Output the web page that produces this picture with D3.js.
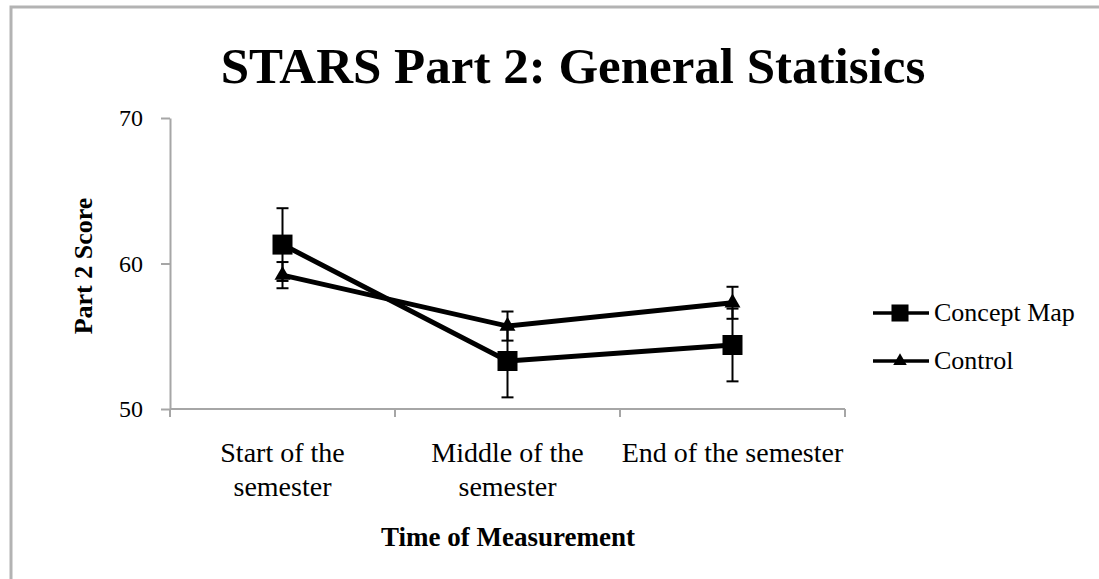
<!DOCTYPE html>
<html lang="en">
<head>
<meta charset="utf-8">
<title>STARS Part 2: General Statisics</title>
<style>
  body { margin: 0; background: #fff; }
  svg text { font-family: "Liberation Serif", "DejaVu Serif", serif; fill: #000; }
  .axis path, .axis line { stroke: #a6a6a6; stroke-width: 2; }
</style>
</head>
<body>
<script src="https://cdn.jsdelivr.net/npm/d3@7"></script>
<script>
// chart values
var categories = ["Start of the semester", "Middle of the semester", "End of the semester"];
var tickLabels = [["Start of the", "semester"], ["Middle of the", "semester"], ["End of the semester"]];
var seriesNames = ["Concept Map", "Control"];
var conceptMap = [61.3, 53.3, 54.4];
var conceptMapErr = [2.5, 2.5, 2.5];
var control = [59.2, 55.7, 57.3];
var controlErr = [0.9, 1.0, 1.1];
var yTicks = [50, 60, 70];

var W = 1099, H = 579;
var margin = {top: 118, left: 170, right: 251, bottom: 170};
var width = W - margin.left - margin.right,
    height = H - margin.top - margin.bottom;  // 291

var svg = d3.select("body").append("svg")
    .attr("width", W)
    .attr("height", H);

// outer chart frame
svg.append("rect")
    .attr("x", 11).attr("y", 7)
    .attr("width", W + 20).attr("height", H + 20)
    .attr("fill", "none")
    .attr("stroke", "#b3b3b3")
    .attr("stroke-width", 3);

svg.append("text")
    .attr("x", 573).attr("y", 83)
    .attr("text-anchor", "middle")
    .style("font-size", "51px")
    .style("font-weight", "bold")
    .text("STARS Part 2: General Statisics");

var g = svg.append("g")
    .attr("transform", "translate(" + margin.left + "," + margin.top + ")");

var x = d3.scaleBand().domain(categories).range([0, 675]);
var y = d3.scaleLinear().domain([50, 70]).range([291, 0]);

// y axis
var yAxis = g.append("g").attr("class", "axis")
    .call(d3.axisLeft(y).tickValues(yTicks).tickSize(9).tickSizeOuter(0).tickPadding(18));
yAxis.selectAll("text").style("font-size", "24px");

// x axis with ticks on category boundaries
var xAxis = g.append("g").attr("class", "axis")
    .attr("transform", "translate(0," + height + ")");
xAxis.append("path")
    .attr("d", "M0,0H" + x.range()[1]);
var bounds = categories.map(function(c) { return x(c); }).concat([x.range()[1]]);
xAxis.selectAll(".bt").data(bounds).enter().append("line")
    .attr("x1", function(d) { return d; }).attr("x2", function(d) { return d; })
    .attr("y1", 0).attr("y2", 8);

var lbl = g.append("g").selectAll("text").data(categories).enter().append("text")
    .attr("x", function(d) { return x(d) + x.bandwidth() / 2; })
    .attr("y", height + 53)
    .attr("text-anchor", "middle")
    .style("font-size", "28px");
lbl.each(function(d, i) {
  var t = d3.select(this);
  tickLabels[i].forEach(function(line, j) {
    t.append("tspan")
      .attr("x", x(d) + x.bandwidth() / 2)
      .attr("dy", j === 0 ? 0 : 34)
      .text(line);
  });
});

svg.append("text")
    .attr("x", 508).attr("y", 546)
    .attr("text-anchor", "middle")
    .style("font-size", "27px")
    .style("font-weight", "bold")
    .text("Time of Measurement");

svg.append("text")
    .attr("transform", "translate(92,266) rotate(-90)")
    .attr("text-anchor", "middle")
    .style("font-size", "26px")
    .style("font-weight", "bold")
    .text("Part 2 Score");

var cx = function(i) { return x(categories[i]) + x.bandwidth() / 2; };

var series = [
  {name: seriesNames[0], values: conceptMap, err: conceptMapErr, shape: d3.symbolSquare, size: 400},
  {name: seriesNames[1], values: control, err: controlErr, shape: d3.symbolTriangle, size: 110}
];

var line = d3.line()
    .x(function(d, i) { return cx(i); })
    .y(function(d) { return y(d); });

// error bars
series.forEach(function(s) {
  var eb = g.append("g").selectAll("g").data(s.values).enter().append("g")
      .attr("stroke", "#000").attr("stroke-width", 2);
  eb.append("line")
      .attr("x1", function(d, i) { return cx(i); }).attr("x2", function(d, i) { return cx(i); })
      .attr("y1", function(d, i) { return y(d + s.err[i]); })
      .attr("y2", function(d, i) { return y(d - s.err[i]); });
  [1, -1].forEach(function(sign) {
    eb.append("line")
      .attr("x1", function(d, i) { return cx(i) - 6; }).attr("x2", function(d, i) { return cx(i) + 6; })
      .attr("y1", function(d, i) { return y(d + sign * s.err[i]); })
      .attr("y2", function(d, i) { return y(d + sign * s.err[i]); });
  });
});

series.forEach(function(s) {
  g.append("path")
      .datum(s.values)
      .attr("fill", "none")
      .attr("stroke", "#000")
      .attr("stroke-width", 5)
      .attr("d", line);
  g.append("g").selectAll("path").data(s.values).enter().append("path")
      .attr("transform", function(d, i) { return "translate(" + cx(i) + "," + y(d) + ")"; })
      .attr("d", d3.symbol().type(s.shape).size(s.size))
      .attr("fill", "#000");
});

// legend
var legend = svg.append("g").selectAll("g").data(series).enter().append("g")
    .attr("transform", function(d, i) { return "translate(873," + (313 + i * 48) + ")"; });
legend.append("line")
    .attr("x1", 0).attr("x2", 56).attr("y1", 0).attr("y2", 0)
    .attr("stroke", "#000").attr("stroke-width", 3.5);
legend.append("path")
    .attr("transform", "translate(27,0)")
    .attr("d", function(d) { return d3.symbol().type(d.shape).size(d.shape === d3.symbolSquare ? 290 : 80)(); })
    .attr("fill", "#000");
legend.append("text")
    .attr("x", 61).attr("y", 8)
    .style("font-size", "26px")
    .text(function(d) { return d.name; });
</script>
</body>
</html>
